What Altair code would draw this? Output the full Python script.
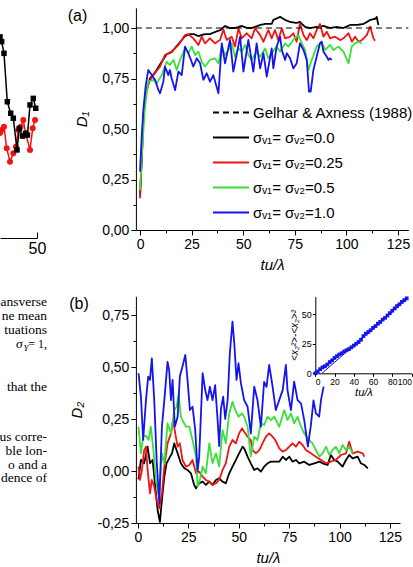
import altair as alt
import pandas as pd

W, H = 413, 567
SANS = "Liberation Sans"
SERIF = "Liberation Serif"

# ---------------- series names / legend ----------------
GELHAR = "Gelhar & Axness (1988)"
S00 = "σᵥ₁= σᵥ₂=0.0"
S025 = "σᵥ₁= σᵥ₂=0.25"
S05 = "σᵥ₁= σᵥ₂=0.5"
S10 = "σᵥ₁= σᵥ₂=1.0"
SERIES = [GELHAR, S00, S025, S05, S10]
COLORS = ["#000000", "#000000", "#f01414", "#3ae03a", "#1414ee"]
DASHES = [[6, 4], [1, 0], [1, 0], [1, 0], [1, 0]]
GELHAR_LEVEL = [1.0]

# ---------------- panel (a): D1 vs tu/lambda ----------------
A_T_BLACK = [0, 1.0, 1.6, 3.0, 4.8, 7.3, 9.7, 12.9, 15.3, 18.6, 21.8, 24.2, 26.0, 28.3, 31.5, 34.0,
             36.3, 39.0, 41.2, 43.5, 46.0, 49.3, 52.0, 54.1, 57.0, 58.2, 60.6, 61.4, 63.8, 64.6, 67.9,
             70.3, 72.7, 75.9, 77.5, 80.0, 82.4, 85.6, 88.9, 92.1, 95.3, 98.6, 101.8, 105.0, 108.3,
             109.9, 111.5, 113.9, 114.7, 115.5]
A_D_BLACK = [0.17, 0.38, 0.56, 0.68, 0.75, 0.78, 0.82, 0.87, 0.88, 0.92, 0.96, 0.97, 0.97, 0.96, 0.97,
             0.97, 0.98, 0.99, 1.01, 1.00, 1.00, 1.01, 1.00, 1.00, 1.01, 1.015, 1.02, 1.02, 1.02, 1.04,
             1.055, 1.04, 1.03, 1.025, 1.03, 1.005, 1.0, 1.005, 1.01, 1.0, 1.005, 1.0, 1.015, 1.015,
             1.02, 1.03, 1.04, 1.045, 1.055, 1.015]
A_T_RED = [0, 0.8, 1.6, 2.7, 4.0, 6.5, 9.7, 12.1, 15.3, 18.6, 21.8, 23.4, 25.8, 28.3, 29.9, 31.5, 33.9,
           36.3, 38.8, 40.4, 42.0, 44.4, 46.0, 47.7, 49.3, 51.7, 54.1, 55.7, 58.2, 59.8, 62.2, 63.8,
           65.4, 67.0, 68.7, 70.3, 72.7, 74.3, 75.9, 77.5, 79.2, 80.8, 82.4, 84.0, 85.6, 87.2, 88.9,
           90.5, 92.1, 94.5, 97.0, 98.6, 101.0, 102.7, 104.2, 105.9, 107.5, 109.9, 111.5, 113.1, 113.9]
A_D_RED = [0.157, 0.35, 0.545, 0.68, 0.726, 0.767, 0.809, 0.866, 0.883, 0.916, 0.965, 0.970, 0.949,
           0.916, 0.957, 0.924, 0.949, 0.924, 0.941, 0.993, 0.941, 0.957, 0.908, 0.998, 0.949, 0.974,
           0.949, 0.998, 0.965, 0.932, 0.99, 0.949, 0.99, 0.94, 0.998, 0.949, 0.957, 0.974, 0.932,
           1.023, 0.965, 0.94, 0.974, 0.949, 0.99, 1.02, 0.957, 0.982, 0.949, 0.957, 0.94, 0.949,
           0.974, 0.932, 0.957, 0.932, 0.94, 0.965, 1.007, 0.949, 0.937]
A_T_GREEN = [0, 1.1, 2.4, 4.0, 6.5, 8.1, 10.5, 12.9, 14.5, 16.2, 17.8, 19.4, 21.8, 23.4, 25.0, 26.7,
             28.3, 29.9, 31.5, 33.9, 36.3, 38.0, 39.6, 41.2, 42.8, 44.4, 46.0, 47.7, 49.3, 50.9, 52.5,
             54.1, 56.5, 58.2, 60.6, 62.2, 63.8, 66.2, 67.9, 70.3, 71.9, 74.3, 76.7, 78.4, 80.0, 81.6,
             83.2, 85.6, 88.0, 89.7, 92.1, 93.7, 96.1, 98.6, 101.0, 102.6, 104.2, 105.8, 107.5]
A_D_GREEN = [0.198, 0.41, 0.61, 0.734, 0.743, 0.726, 0.767, 0.833, 0.817, 0.842, 0.792, 0.842, 0.899,
             0.875, 0.908, 0.866, 0.883, 0.833, 0.809, 0.842, 0.850, 0.825, 0.908, 0.866, 0.891, 0.924,
             0.858, 0.899, 0.883, 0.916, 0.866, 0.842, 0.883, 0.858, 0.899, 0.850, 0.875, 0.908, 0.883,
             0.924, 0.908, 0.941, 0.965, 0.924, 0.891, 0.792, 0.842, 0.908, 0.932, 0.891, 0.916, 0.891,
             0.908, 0.883, 0.825, 0.908, 0.924, 0.932, 0.924]
A_T_BLUE = [0, 0.8, 1.6, 2.7, 4.0, 5.7, 7.3, 8.9, 9.7, 11.3, 12.1, 13.7, 14.5, 15.3, 17.0, 18.6, 20.2,
            21.8, 23.4, 25.0, 25.8, 27.5, 29.1, 30.7, 32.3, 33.9, 35.5, 38.0, 39.6, 41.2, 43.6, 45.2,
            46.0, 48.5, 50.1, 52.5, 54.9, 56.5, 58.2, 59.8, 61.4, 63.8, 64.6, 66.2, 67.9, 68.7, 70.3,
            71.1, 72.7, 74.3, 75.9, 77.5, 79.2, 80.8, 81.9, 82.7, 84.0, 85.6, 87.2, 88.0, 88.9, 90.5,
            91.3, 92.1, 92.9]
A_D_BLUE = [0.289, 0.46, 0.594, 0.71, 0.792, 0.767, 0.743, 0.693, 0.677, 0.734, 0.809, 0.767, 0.792,
            0.751, 0.693, 0.784, 0.767, 0.908, 0.875, 0.833, 0.809, 0.850, 0.825, 0.743, 0.776, 0.734,
            0.767, 0.677, 0.924, 0.825, 0.941, 0.784, 0.825, 0.957, 0.784, 0.941, 0.784, 0.924, 0.800,
            0.875, 0.759, 0.899, 0.80, 0.908, 0.957, 0.891, 0.842, 0.875, 0.850, 0.800, 0.825, 0.924,
            0.891, 0.842, 0.685, 0.685, 0.792, 0.858, 0.924, 0.932, 0.883, 0.858, 0.842, 0.850, 0.842]

# ---------------- panel (b): D2 vs tu/lambda ----------------
B_T_BLACK = [0.3, 1.5, 3.1, 4.8, 6.0, 7.3, 8.6, 9.8, 10.9, 11.9, 13.1, 14.2, 15.5, 16.9, 18.0, 19.7,
             21.3, 23.0, 24.6, 26.3, 27.9, 28.8, 30.4, 32.1, 33.7, 35.4, 37.0, 38.7, 40.3, 42.0, 43.6,
             45.3, 46.9, 48.6, 50.2, 51.9, 52.7, 54.4, 56.0, 57.7, 59.3, 61.0, 62.6, 64.3, 66.0, 67.6,
             70.1, 71.8, 73.4, 75.1, 76.7, 78.4, 80.0, 82.5, 85.0, 87.5, 90.0, 91.6, 94.1, 95.7, 97.4,
             99.1, 101.5, 103.2, 104.8, 106.5, 109.0, 110.6, 112.3, 114.0]
B_D_BLACK = [-0.04, 0.053, 0.037, 0.117, 0.037, 0.053, -0.075, -0.19, -0.245, -0.14, -0.027, 0.037,
             0.061, 0.085, 0.133, 0.085, 0.037, 0.013, 0.005, -0.011, -0.067, -0.083, -0.059, -0.051,
             -0.067, -0.051, -0.067, -0.043, -0.035, -0.051, -0.059, -0.011, 0.021, 0.053, 0.085,
             0.117, 0.109, 0.069, 0.037, 0.005, 0.013, -0.003, 0.021, 0.037, 0.045, 0.045, 0.045,
             0.069, 0.053, 0.069, 0.045, 0.053, 0.037, 0.045, 0.029, 0.037, 0.045, 0.037, 0.029,
             0.077, 0.053, 0.045, 0.021, 0.053, 0.077, 0.061, 0.069, 0.037, 0.029, 0.013]
B_T_RED = [0.3, 1.0, 2.0, 3.1, 4.0, 4.8, 6.0, 6.9, 8.1, 9.3, 10.6, 11.9, 13.1, 14.7, 16.4, 17.5, 18.5,
           19.7, 20.8, 22.1, 23.8, 25.5, 27.1, 28.8, 30.4, 32.1, 33.7, 35.4, 37.0, 38.7, 40.3, 42.0,
           43.6, 45.3, 46.9, 48.6, 50.2, 51.6, 52.7, 54.4, 56.0, 56.9, 58.5, 60.2, 61.8, 63.5, 65.1,
           66.8, 68.1, 70.1, 71.8, 73.4, 75.1, 76.7, 78.4, 80.0, 81.7, 83.3, 85.8, 88.3, 90.8, 93.3,
           95.7, 98.2, 100.7, 103.2, 104.8, 106.5, 109.0, 111.5, 112.3]
B_D_RED = [0.021, -0.043, 0.005, 0.10, 0.117, 0.005, -0.107, -0.043, -0.075, -0.139, -0.18, -0.107,
           0.021, 0.133, 0.181, 0.245, 0.181, 0.117, 0.133, 0.053, 0.021, 0.029, 0.053, -0.011,
           -0.003, -0.027, -0.043, -0.051, -0.067, -0.059, -0.043, 0.005, 0.037, 0.117, 0.149, 0.133,
           0.181, 0.205, 0.189, 0.165, 0.149, 0.10, 0.085, 0.10, 0.133, 0.165, 0.181, 0.165, 0.149,
           0.109, 0.093, 0.101, 0.117, 0.133, 0.117, 0.141, 0.125, 0.101, 0.085, 0.069, 0.053, 0.037,
           0.045, 0.053, 0.077, 0.085, 0.141, 0.085, 0.093, 0.085, 0.069]
B_T_GREEN = [0.3, 1.5, 2.6, 4.0, 5.3, 6.4, 7.7, 9.0, 10.4, 11.9, 13.1, 14.7, 16.4, 18.0, 19.2, 20.2,
             21.3, 22.1, 23.8, 25.5, 27.1, 28.8, 29.6, 30.7, 32.1, 33.7, 35.4, 37.0, 38.7, 40.3, 42.0,
             43.6, 45.3, 46.9, 48.3, 49.9, 51.6, 52.7, 54.4, 56.0, 57.7, 59.3, 61.0, 62.6, 64.3, 66.0,
             67.6, 70.1, 72.6, 74.2, 75.9, 77.5, 79.2, 80.9, 82.5, 85.0, 86.6, 88.3, 90.0, 91.6, 93.3,
             95.0, 96.6, 98.2, 99.9, 101.5, 103.2, 104.8, 106.5]
B_D_GREEN = [0.213, 0.085, 0.165, 0.17, 0.15, 0.213, 0.10, -0.05, -0.12, 0.085, 0.037, 0.229, 0.181,
             0.293, 0.309, 0.373, 0.261, 0.245, 0.213, 0.213, 0.149, 0.069, -0.075, -0.043, 0.021,
             -0.011, 0.133, 0.037, 0.085, 0.021, 0.197, 0.133, 0.277, 0.333, 0.293, 0.261, 0.277,
             0.261, 0.213, 0.069, 0.165, 0.149, 0.229, 0.221, 0.261, 0.245, 0.261, 0.213, 0.293, 0.245,
             0.277, 0.229, 0.261, 0.213, 0.181, 0.149, 0.133, 0.101, 0.069, 0.085, 0.117, 0.077, 0.101,
             0.117, 0.085, 0.125, 0.101, 0.117, 0.085]
B_T_BLUE = [0.3, 1.5, 2.6, 4.0, 5.1, 6.0, 6.9, 8.1, 9.3, 10.6, 11.9, 13.1, 14.7, 15.5, 16.4, 17.2, 18.3,
            19.7, 20.8, 22.1, 23.5, 24.6, 25.8, 27.1, 28.4, 29.6, 30.4, 32.1, 33.4, 34.5, 35.7, 37.0,
            38.3, 39.5, 40.3, 41.2, 42.3, 43.3, 44.5, 45.6, 46.9, 47.8, 48.9, 49.9, 51.1, 52.7, 54.4,
            56.0, 57.7, 59.3, 61.0, 62.6, 63.8, 65.1, 66.8, 68.4, 70.1, 71.8, 73.4, 74.2, 75.9, 77.5,
            79.2, 80.9, 82.5, 84.3, 85.8, 87.1, 88.3, 89.9, 90.8, 92.1]
B_D_BLUE = [0.47, 0.357, 0.149, 0.341, 0.454, 0.438, 0.542, 0.341, 0.05, -0.155, 0.213, 0.341, 0.525,
            0.485, 0.341, 0.438, 0.213, 0.261, 0.454, 0.502, 0.558, 0.438, 0.293, 0.309, 0.2, 0.0,
            0.069, 0.47, 0.389, 0.341, 0.405, 0.341, 0.413, 0.25, 0.12, 0.3, 0.357, 0.25, 0.341, 0.566,
            0.718, 0.614, 0.438, 0.518, 0.421, 0.341, 0.309, 0.18, 0.405, 0.341, 0.213, 0.429, 0.405,
            0.51, 0.406, 0.293, 0.341, 0.389, 0.51, 0.389, 0.293, 0.43, 0.341, 0.325, 0.245, 0.117,
            0.221, 0.34, 0.277, 0.261, 0.341, 0.406]

# ---------------- inset: <x2^2>-<x2>^2 vs tu/lambda ----------------
I_T = [0, 2.5, 5, 7.5, 10, 12.5, 15, 17.5, 20, 22.5, 25, 27.5, 30, 32.5, 35, 37.5, 40, 42.5, 45, 47.5,
       50, 52.5, 55, 57.5, 60, 62.5, 65, 67.5, 70, 72.5, 75, 77.5, 80, 82.5, 85, 87.5, 90, 92.5, 95]
I_V = [0, 1.5, 3.5, 5, 6, 7.5, 9.5, 11, 13, 14.5, 16, 17, 18.5, 19.5, 20.5, 22, 23.5, 25, 26.5, 28.5,
       31.5, 33.5, 35, 36.5, 38.5, 40, 42, 43.5, 45.5, 47, 49, 51, 53, 55, 57, 58.5, 60.5, 62, 63.5]
I_T_FIT = [7, 95]
I_V_FIT = [0, 63]

# ---------------- left (cropped) neighbouring figure ----------------
L_X_BLACK = [41.9, 42.5, 42.84, 43.31, 43.98, 44.67, 45.20, 45.95, 46.41, 47.06, 47.67, 48.07, 48.58, 49.25, 49.74]
L_V_BLACK = [1.05, 1.014, 0.990, 0.931, 0.687, 0.629, 0.604, 0.444, 0.553, 0.514, 0.528, 0.519, 0.671, 0.704, 0.654]
L_X_RED = [41.9, 42.5, 42.84, 43.31, 43.86, 44.53, 45.20, 45.74, 46.21, 46.70, 47.22, 47.71, 48.58, 49.13, 49.60]
L_V_RED = [0.49, 0.53, 0.545, 0.561, 0.452, 0.385, 0.427, 0.460, 0.545, 0.561, 0.595, 0.528, 0.444, 0.553, 0.595]

# ---------------- layout / style constants ----------------
X_MAJOR = [0, 25, 50, 75, 100, 125]
X_MINOR = [12.5, 37.5, 62.5, 87.5, 112.5]
A_Y_MAJOR = [0, 0.25, 0.5, 0.75, 1.0]
A_Y_MINOR = [0.125, 0.375, 0.625, 0.875]
B_Y_MAJOR = [-0.25, 0, 0.25, 0.5, 0.75]
B_Y_MINOR = [-0.125, 0.125, 0.375, 0.625]

A_XDOM, A_XR, A_YDOM, A_YR = [-2, 130], [135.9, 408.3], [0, 1.1], [230, 7.8]
B_XDOM, B_XR, B_YDOM, B_YR = [-1, 130], [135.9, 400], [-0.25, 0.84], [523, 296.3]
I_XDOM, I_XR, I_YDOM, I_YR = [0, 100], [315.3, 411.5], [0, 65], [373.3, 296.6]
L_XDOM, L_XR, L_YDOM, L_YR = [42.5, 50], [0, 37], [0, 1.2], [238, 0]

COMMA = "(datum.value < 0 ? '-' : '') + replace(format(abs(datum.value), '.2f'), '.', ',')"


def sc(dom, rng):
    return alt.Scale(domain=dom, range=rng, nice=False, zero=False)


def ax(**kw):
    d = dict(grid=False, domainColor="black", domainWidth=1, tickColor="black", tickWidth=1,
             labelColor="black", labelFont=SANS, labelFontSize=14, labelPadding=2, tickSize=5,
             titleColor="black", titleFont=SANS, titleFontSize=15, titleFontWeight="normal",
             titleFontStyle="italic", labelFlush=False, labelOverlap=False)
    d.update(kw)
    return alt.Axis(**d)


def make_lines(parts):
    frames = []
    for name, ts, ds in parts:
        assert len(ts) == len(ds), name
        frames.append(pd.DataFrame({"t": ts, "D": ds, "series": name}))
    return pd.concat(frames, ignore_index=True)


ONE = pd.DataFrame({"k": [0]})


def note(text, x, y, size=13.5, font=SERIF, align="right", style="normal"):
    return alt.Chart(ONE).mark_text(text=text, align=align, baseline="middle", font=font,
                                    fontSize=size, fontStyle=style, color="black").encode(
        x=alt.value(x), y=alt.value(y))


# ---------------- panel (a) ----------------
df_a = make_lines([(S00, A_T_BLACK, A_D_BLACK), (S025, A_T_RED, A_D_RED),
                   (S05, A_T_GREEN, A_D_GREEN), (S10, A_T_BLUE, A_D_BLUE)])
ref_a = pd.DataFrame({"t": [A_XDOM[0]], "t2": [A_XDOM[1]], "D": GELHAR_LEVEL, "series": [GELHAR]})

leg = alt.Legend(orient="none", legendX=223.5, legendY=105, title=None, padding=0,
                 symbolType="M-4,0H4", symbolSize=81, symbolStrokeWidth=2,
                 labelFont=SANS, labelFontSize=15, labelColor="black", labelOffset=14.5,
                 rowPadding=9, labelLimit=500)
col_a = alt.Color("series:N", scale=alt.Scale(domain=SERIES, range=COLORS), legend=leg)
dash_a = alt.StrokeDash("series:N", scale=alt.Scale(domain=SERIES, range=DASHES), legend=leg)

xa = alt.X("t:Q", scale=sc(A_XDOM, A_XR),
           axis=ax(orient="bottom", offset=A_YR[0] - H, values=X_MAJOR, title="tu/λ", titlePadding=6))
ya = alt.Y("D:Q", scale=sc(A_YDOM, A_YR),
           axis=ax(orient="left", offset=-A_XR[0], values=A_Y_MAJOR, labelExpr=COMMA, title="D₁",
                   titlePadding=12))
panel_a = alt.layer(
    alt.Chart(df_a).mark_line(strokeWidth=1.8, strokeJoin="round").encode(
        x=xa, y=ya, color=col_a, strokeDash=dash_a),
    alt.Chart(ref_a).mark_rule(strokeWidth=1.2).encode(
        x=xa, x2="t2:Q", y=ya, color=col_a, strokeDash=dash_a),
)
minor_a = alt.Chart(df_a).mark_point(opacity=0).encode(
    x=alt.X("t:Q", scale=sc(A_XDOM, A_XR),
            axis=ax(orient="bottom", offset=A_YR[0] - H, values=X_MINOR, labels=False, domain=False,
                    tickSize=3, title=None)),
    y=alt.Y("D:Q", scale=sc(A_YDOM, A_YR),
            axis=ax(orient="left", offset=-A_XR[0], values=A_Y_MINOR, labels=False, domain=False,
                    tickSize=3, title=None)),
)

# ---------------- panel (b) ----------------
df_b = make_lines([(S00, B_T_BLACK, B_D_BLACK), (S025, B_T_RED, B_D_RED),
                   (S05, B_T_GREEN, B_D_GREEN), (S10, B_T_BLUE, B_D_BLUE)])
panel_b = alt.Chart(df_b).mark_line(strokeWidth=1.8, strokeJoin="round").encode(
    x=alt.X("t:Q", scale=sc(B_XDOM, B_XR),
            axis=ax(orient="bottom", offset=B_YR[0] - H, values=X_MAJOR, title="tu/λ", titlePadding=6)),
    y=alt.Y("D:Q", scale=sc(B_YDOM, B_YR),
            axis=ax(orient="left", offset=-B_XR[0], values=B_Y_MAJOR, labelExpr=COMMA, title="D₂",
                    titlePadding=12)),
    color=alt.Color("series:N", scale=alt.Scale(domain=SERIES, range=COLORS), legend=None),
)
minor_b = alt.Chart(df_b).mark_point(opacity=0).encode(
    x=alt.X("t:Q", scale=sc(B_XDOM, B_XR),
            axis=ax(orient="bottom", offset=B_YR[0] - H, values=X_MINOR, labels=False, domain=False,
                    tickSize=3, title=None)),
    y=alt.Y("D:Q", scale=sc(B_YDOM, B_YR),
            axis=ax(orient="left", offset=-B_XR[0], values=B_Y_MINOR, labels=False, domain=False,
                    tickSize=3, title=None)),
)

# ---------------- inset ----------------
df_i = pd.DataFrame({"t": I_T, "v": I_V})
df_fit = pd.DataFrame({"t": I_T_FIT, "v": I_V_FIT})
xi = alt.X("t:Q", scale=sc(I_XDOM, I_XR),
           axis=ax(orient="bottom", offset=I_YR[0] - H, values=[0, 20, 40, 60, 80, 100], labelFontSize=8.5,
                   tickSize=3, labelPadding=1, labelFlush=True, title="tu/λ", titleFontSize=11,
                   titlePadding=1))
yi = alt.Y("v:Q", scale=sc(I_YDOM, I_YR),
           axis=ax(orient="left", offset=-I_XR[0], values=[0, 25, 50], labelFontSize=9, tickSize=3,
                   labelPadding=1, title="<x₂²>-<x₂>²", titleFontSize=10, titlePadding=2))
inset = alt.layer(
    alt.Chart(df_i).mark_line(color="#1414ee", strokeWidth=1.5).encode(x=xi, y=yi),
    alt.Chart(df_i).mark_point(shape="square", filled=True, size=14, color="#1414ee", opacity=1).encode(x=xi, y=yi),
    alt.Chart(df_fit).mark_line(color="#1414ee", strokeWidth=1).encode(x=xi, y=yi),
)

# ---------------- left cropped figure ----------------
df_lb = pd.DataFrame({"x": L_X_BLACK, "v": L_V_BLACK})
df_lr = pd.DataFrame({"x": L_X_RED, "v": L_V_RED})
xl = alt.X("x:Q", scale=sc(L_XDOM, L_XR),
           axis=ax(orient="top", offset=-L_YR[0], values=[50], labels=False, tickSize=6, title=None))
yl = alt.Y("v:Q", scale=sc(L_YDOM, L_YR), axis=None)
left = alt.layer(
    alt.Chart(df_lr).mark_line(color="#f01414", strokeWidth=1.5, clip=True).encode(x=xl, y=yl),
    alt.Chart(df_lr).mark_point(shape="circle", filled=True, size=36, color="#f01414", opacity=1, clip=True).encode(x=xl, y=yl),
    alt.Chart(df_lb).mark_line(color="black", strokeWidth=1.5, clip=True).encode(x=xl, y=yl),
    alt.Chart(df_lb).mark_point(shape="square", filled=True, size=30, color="black", opacity=1, clip=True).encode(x=xl, y=yl),
)
left_lab = alt.Chart(df_lb).mark_point(opacity=0, clip=True).encode(
    x=alt.X("x:Q", scale=sc(L_XDOM, L_XR),
            axis=ax(orient="bottom", offset=L_YR[0] - H, values=[50], ticks=False, domain=False,
                    labelFontSize=16, labelPadding=2, title=None)),
    y=alt.Y("v:Q", scale=sc(L_YDOM, L_YR), axis=None),
)

# ---------------- text fragments of the page ----------------
notes = [
    note("ansverse", 47, 301.7), note("ne mean", 47, 315.5), note("tuations", 47, 330),
    note("= 1,", 47, 343.5, size=12), note("σ", 16, 343.5, align="left", style="italic"),
    note("Y", 23.5, 347.5, size=9, align="left", style="italic"),
    note("that the", 47, 386.7), note("us corre-", 47, 436.7), note("ble lon-", 47, 450.7),
    note("o and a", 47, 464.5), note("dence of", 47, 478.3),
    note("(a)", 77.5, 16, size=16, font=SANS, align="center"),
    note("(b)", 79, 303.5, size=16, font=SANS, align="center"),
]

chart = alt.layer(
    left, left_lab, *notes, panel_a, minor_a, panel_b, minor_b, inset
).resolve_scale(
    x="independent", y="independent", color="independent", strokeDash="independent"
).properties(
    width=W, height=H, padding=0, background="white",
    autosize=alt.AutoSizeParams(type="none"),
).configure_view(stroke=None)

chart.save("out.html", embed_options={"renderer": "svg", "actions": False})
